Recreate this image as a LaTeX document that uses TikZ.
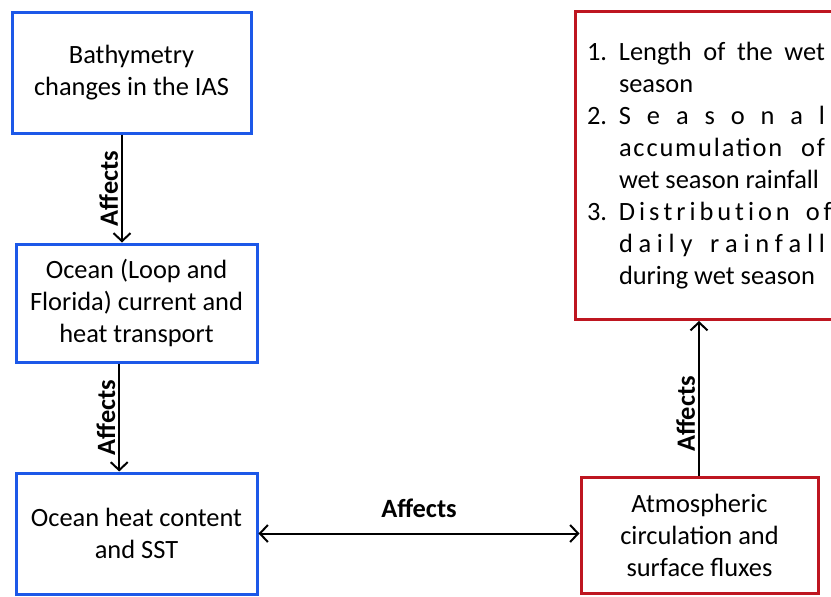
\documentclass[tikz,border=0pt]{standalone}
\usepackage{fontspec}
\setmainfont{Carlito}
\usetikzlibrary{arrows.meta}
\usepackage{xcolor}
\definecolor{oceanBlue}{RGB}{28, 88, 232}
\definecolor{rainRed}{RGB}{190, 22, 32}

\newlength{\jw}
\setlength{\jw}{103pt}
\newcommand{\itemno}[1]{\makebox[16pt][l]{#1}}
\newcommand{\jline}[1]{\makebox[\jw][s]{#1}}

\begin{document}
\begin{tikzpicture}
    [
		font=\fontsize{13.2}{16}\selectfont,
		>={Straight Barb[length=4pt,width=8.5pt]},
		oceanbox/.style={
			draw=oceanBlue, line width=1.5pt, align=center, inner sep=2pt
		},
		atmosbox/.style={
			draw=rainRed, line width=1.5pt, align=center, inner sep=2pt
		},
		link/.style={
			line width=1pt
		},
		affects/.style={
			font=\fontsize{13.2}{16}\selectfont\bfseries, inner sep=1.5pt
		}
	]

\useasboundingbox (0,0) rectangle (415.5pt,-298pt);

% Nodes
\node (bathy) [oceanbox, minimum width=119.5pt, minimum height=60.5pt]
	at (65.75pt,-36.25pt) {Bathymetry\\changes in the IAS};
\node (current) [oceanbox, below of=bathy, node distance=115.25pt, xshift=2.5pt,
	minimum width=120.5pt, minimum height=59pt]
	{Ocean (Loop and\\Florida) current and\\heat transport};
\node (ohc) [oceanbox, below of=current, node distance=115.25pt,
	minimum width=120.5pt, minimum height=60.5pt]
	{Ocean heat content\\and SST};
\node (atmos) [atmosbox, right of=ohc, node distance=281.5pt, yshift=-0.75pt,
	minimum width=118.5pt, minimum height=58pt]
	{Atmospheric\\circulation and\\surface fluxes};
\node (rain) [atmosbox, above of=atmos, node distance=184.75pt, xshift=3.25pt,
	minimum width=131pt, minimum height=154pt, align=left]
	{\itemno{1.}\jline{Length of the wet}\\
	\itemno{}season\\
	\itemno{2.}\jline{S e a s o n a l}\\
	\itemno{}\jline{\addfontfeature{LetterSpace=7}accumulation of}\\
	\itemno{}wet season rainfall\\
	\itemno{3.}\jline{D i s t r i b u t i o n\hspace{6pt} o f}\\
	\itemno{}\jline{d a i l y\hspace{6pt} r a i n f a l l}\\
	\itemno{}during wet season};

% Links
\draw [->, link] ([xshift=-4.75pt]bathy.south) -- ([xshift=-4.75pt]bathy.south |- current.north)
	node [midway, affects, rotate=90, anchor=south] {Affects};

\draw [->, link] ([xshift=-8.65pt]current.south) -- ([xshift=-8.65pt]current.south |- ohc.north)
	node [midway, affects, rotate=90, anchor=south] {Affects};

\draw [->, link] ([xshift=-0.25pt]atmos.north) -- ([xshift=-0.25pt]atmos.north |- rain.south)
	node [pos=0.4, affects, rotate=90, anchor=south] {Affects};

\draw [<->, link] (ohc.east) -- (ohc.east -| atmos.west)
	node [midway, above, affects, yshift=6pt] {Affects};

\end{tikzpicture}
\end{document}
